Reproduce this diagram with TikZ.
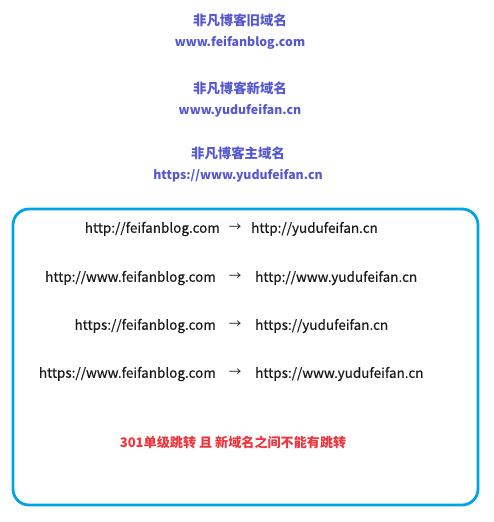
\documentclass[tikz,border=0pt]{standalone}
\usepackage{fontspec}
\setmainfont{Noto Sans CJK SC}
\newfontfamily\rowfont[FakeBold=0.4]{Noto Sans CJK SC}
\definecolor{titleblue}{HTML}{5558D0}
\definecolor{boxcyan}{HTML}{00A3E8}
\definecolor{redtxt}{HTML}{F0343C}
\definecolor{darktxt}{HTML}{1A1A1A}
\begin{document}
\begin{tikzpicture}[x=1pt,y=-1pt,
  title/.style={text=titleblue,font=\fontsize{13.4}{15}\selectfont\bfseries,inner sep=0pt},
  url/.style={text=titleblue,font=\fontsize{12.3}{14}\selectfont\bfseries,inner sep=0pt},
  row/.style={text=darktxt,font=\rowfont\fontsize{13.5}{15}\selectfont,inner sep=0pt},
  arr/.style={text=darktxt,font=\fontsize{12.5}{14}\selectfont,inner sep=0pt},
  frame/.style={draw=boxcyan,line width=2.8pt,rounded corners=16pt},
  note/.style={text=redtxt,font=\fontsize{13.1}{15}\selectfont\bfseries,inner sep=0pt}]
\useasboundingbox (0,0) rectangle (493,522);
\node[title] (t1) at (240,20) {非凡博客旧域名};
\node[url] (u1) at (240,43) {www.feifanblog.com};
\node[title] (t2) at (240,88) {非凡博客新域名};
\node[url] (u2) at (240,111) {www.yudufeifan.cn};
\node[title] (t3) at (238,153) {非凡博客主域名};
\node[url] (u3) at (238,176) {https://www.yudufeifan.cn};
\draw[frame] (13,209) rectangle (478,505);
\node[row,anchor=east] (l1) at (220,229) {http://feifanblog.com};
\node[arr] (a1) at (235,228) {→};
\node[row,anchor=west] (r1) at (251,229) {http://yudufeifan.cn};
\node[row,anchor=east] (l2) at (216,278) {http://www.feifanblog.com};
\node[arr] (a2) at (235,277) {→};
\node[row,anchor=west] (r2) at (255,278) {http://www.yudufeifan.cn};
\node[row,anchor=east] (l3) at (216,326) {https://feifanblog.com};
\node[arr] (a3) at (235,325) {→};
\node[row,anchor=west] (r3) at (255,326) {https://yudufeifan.cn};
\node[row,anchor=east] (l4) at (216,374) {https://www.feifanblog.com};
\node[arr] (a4) at (235,373) {→};
\node[row,anchor=west] (r4) at (255,374) {https://www.yudufeifan.cn};
\node[note] (n) at (233,442) {301单级跳转 且 新域名之间不能有跳转};
\end{tikzpicture}
\end{document}
